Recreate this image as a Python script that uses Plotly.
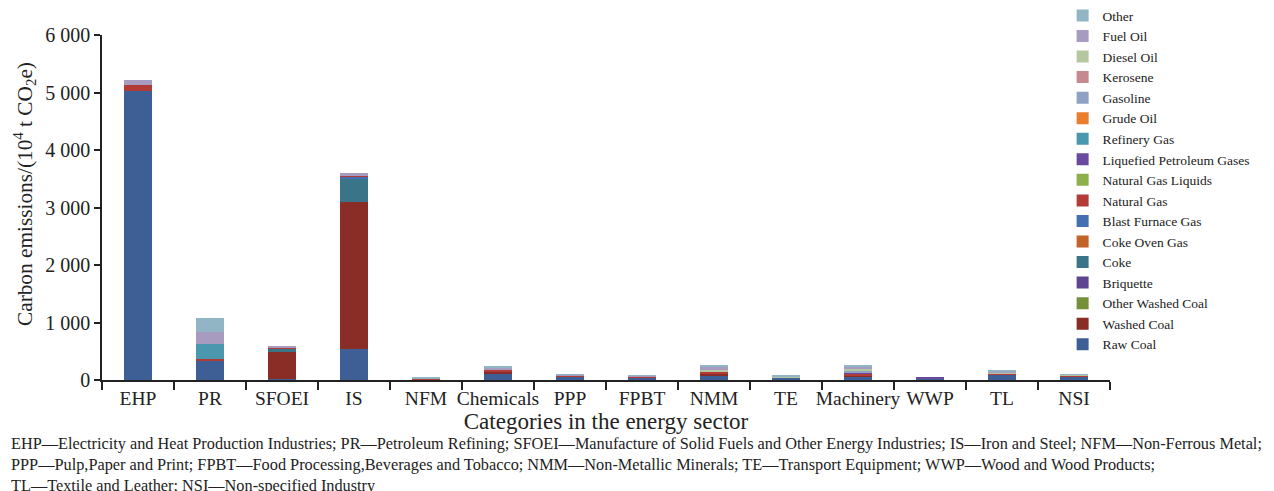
import plotly.graph_objects as go

categories = ["EHP", "PR", "SFOEI", "IS", "NFM", "Chemicals", "PPP", "FPBT",
              "NMM", "TE", "Machinery", "WWP", "TL", "NSI"]

raw_coal          = [5026, 336, 20, 533, 15, 105, 62, 45, 85, 35, 55, 20, 100, 62]
washed_coal       = [0, 0, 473, 2568, 0, 40, 0, 0, 30, 0, 25, 0, 0, 0]
other_washed_coal = [0, 0, 0, 0, 0, 0, 0, 0, 0, 0, 0, 0, 0, 0]
briquette         = [0, 0, 0, 0, 0, 0, 0, 0, 0, 0, 0, 0, 0, 0]
coke              = [0, 0, 55, 407, 0, 0, 0, 0, 0, 0, 0, 0, 0, 0]
coke_oven_gas     = [0, 0, 0, 0, 0, 0, 0, 0, 0, 0, 0, 0, 0, 0]
blast_furnace_gas = [0, 0, 0, 28, 0, 0, 0, 0, 0, 0, 0, 0, 0, 0]
natural_gas       = [100, 24, 15, 29, 5, 30, 15, 15, 25, 0, 30, 0, 15, 12]
ngl               = [0, 0, 0, 0, 0, 0, 0, 0, 0, 0, 0, 0, 0, 0]
lpg               = [0, 0, 0, 0, 0, 0, 0, 0, 0, 0, 15, 15, 0, 0]
refinery_gas      = [0, 266, 0, 0, 0, 0, 0, 0, 0, 0, 0, 0, 0, 0]
crude_oil         = [0, 0, 0, 0, 0, 0, 8, 0, 5, 0, 10, 0, 0, 8]
gasoline          = [0, 0, 0, 0, 0, 0, 0, 0, 10, 10, 25, 0, 0, 0]
kerosene          = [0, 0, 0, 0, 0, 0, 0, 0, 0, 0, 5, 0, 0, 0]
diesel_oil        = [0, 0, 0, 0, 0, 15, 0, 0, 25, 15, 30, 0, 10, 5]
fuel_oil          = [95, 214, 27, 29, 0, 30, 5, 10, 40, 0, 30, 0, 25, 5]
other             = [0, 244, 0, 0, 15, 30, 10, 12, 35, 15, 36, 0, 20, 5]

series = [
    ("Raw Coal", raw_coal, "#3e5f96"),
    ("Washed Coal", washed_coal, "#8a2d27"),
    ("Other Washed Coal", other_washed_coal, "#76903a"),
    ("Briquette", briquette, "#5f4590"),
    ("Coke", coke, "#3a7488"),
    ("Coke Oven Gas", coke_oven_gas, "#c2632a"),
    ("Blast Furnace Gas", blast_furnace_gas, "#4470b3"),
    ("Natural Gas", natural_gas, "#b23b38"),
    ("Natural Gas Liquids", ngl, "#8db04b"),
    ("Liquefied Petroleum Gases", lpg, "#6a4a9e"),
    ("Refinery Gas", refinery_gas, "#4a97ae"),
    ("Grude Oil", crude_oil, "#e97e2f"),
    ("Gasoline", gasoline, "#8fa2c4"),
    ("Kerosene", kerosene, "#c48a8f"),
    ("Diesel Oil", diesel_oil, "#b5c7a0"),
    ("Fuel Oil", fuel_oil, "#a79cc0"),
    ("Other", other, "#92b5c5"),
]

footnote = ("EHP—Electricity and Heat Production Industries; PR—Petroleum Refining; "
            "SFOEI—Manufacture of Solid Fuels and Other Energy Industries; IS—Iron and Steel; "
            "NFM—Non-Ferrous Metal;<br>"
            "PPP—Pulp,Paper and Print; FPBT—Food Processing,Beverages and Tobacco; "
            "NMM—Non-Metallic Minerals; TE—Transport Equipment; WWP—Wood and Wood Products;<br>"
            "TL—Textile and Leather; NSI—Non-specified Industry")

FONT = "Liberation Serif, Times New Roman, serif"

fig = go.Figure()
for name, vals, color in series:
    fig.add_trace(go.Bar(x=categories, y=vals, name=name,
                         marker=dict(color=color, line=dict(width=0))))

fig.update_layout(
    barmode="stack",
    bargap=0.6,
    width=1274, height=491,
    margin=dict(l=102, r=164, t=35, b=111, autoexpand=False),
    paper_bgcolor="white", plot_bgcolor="white",
    font=dict(family=FONT, color="#222"),
    separators=". ",
    legend=dict(traceorder="reversed", x=0.953, xanchor="left", y=1.101, yanchor="top",
                font=dict(size=13.5, family=FONT), tracegroupgap=0, itemwidth=30,
                maxheight=480, bgcolor="rgba(0,0,0,0)"),
    showlegend=True,
)
fig.update_xaxes(
    automargin=False, tickangle=0,
    showline=True, linecolor="#222", linewidth=1.5,
    ticks="outside", tickson="boundaries", ticklen=8, tickcolor="#222", tickwidth=1.5,
    tickfont=dict(size=19.5, family=FONT),
    title=dict(text="Categories in the energy sector", font=dict(size=23, family=FONT), standoff=2),
)
fig.update_yaxes(
    automargin=False,
    range=[0, 6000], dtick=1000, tickformat=",d",
    showline=True, linecolor="#222", linewidth=1.5,
    ticks="outside", ticklen=6, tickcolor="#222", tickwidth=1.5,
    showgrid=False, zeroline=False,
    tickfont=dict(size=20, family=FONT),
)
fig.add_annotation(text="Carbon emissions/(10<sup>4</sup> t CO<sub>2</sub>e)",
                   xref="paper", yref="paper", x=-0.0774, y=0.539,
                   xanchor="center", yanchor="middle", textangle=-90, showarrow=False,
                   font=dict(size=21.3, family=FONT, color="#222"))
fig.add_annotation(text=footnote, xref="paper", yref="paper",
                   x=-0.092, y=-0.152, xanchor="left", yanchor="top",
                   align="left", showarrow=False,
                   font=dict(size=16.3, family=FONT, color="#222"))

fig.write_html("out.html", config={"displayModeBar": False},
               post_script="document.body.style.margin='0';")
